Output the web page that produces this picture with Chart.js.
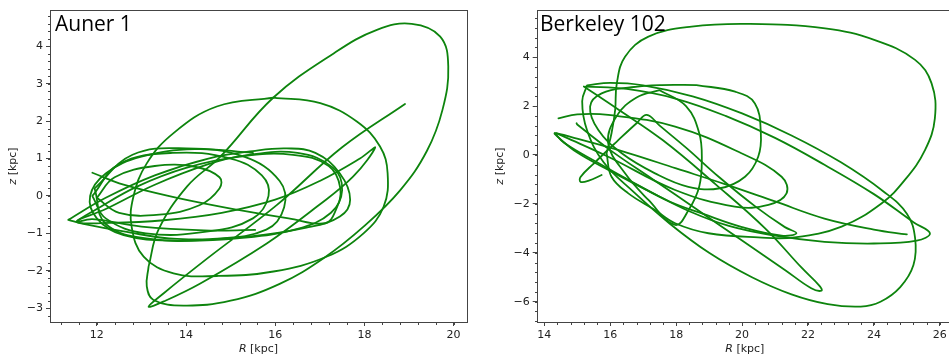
<!DOCTYPE html>
<html>
<head>
<meta charset="utf-8">
<script src="https://cdn.jsdelivr.net/npm/chart.js@4"></script>
<style>
html, body { margin: 0; padding: 0; background: #fff; overflow: hidden; }
#wrap { position: relative; width: 949px; height: 360px; overflow: hidden; }
.panel { position: absolute; top: 0; }
</style>
</head>
<body>
<div id="wrap">
  <div class="panel" style="left:0"><canvas id="auner" width="475" height="360"></canvas></div>
  <div class="panel" style="left:475px"><canvas id="berkeley" width="478" height="360"></canvas></div>
</div>
<script>
// orbit traces in the (R, z) plane, kpc
const aunerOuter = [[13.16,-1.89],[13.38,-0.91],[14.02,0.25],[14.77,1.05],[15.96,2.63],[17.31,3.81],[18.28,4.44],[19.06,4.6],[19.7,4.26],[19.88,3.46],[19.75,2.3],[19.4,1.2],[18.8,0.15],[18.0,-0.8],[17.1,-1.65],[16.1,-2.35],[15.0,-2.8],[13.94,-2.93],[13.27,-2.78],[13.12,-2.42],[13.16,-1.89]];
const aunerTall = [[15.96,2.63],[17.01,2.48],[17.83,1.99],[18.35,1.32],[18.52,0.61],[18.43,-0.29],[17.98,-1.0],[17.16,-1.62],[15.96,-2.02],[14.69,-2.14],[13.72,-2.07],[13.05,-1.62],[12.78,-0.82],[12.82,-0.02],[13.12,0.87],[13.72,1.68],[14.69,2.39],[15.96,2.63]];
const aunerDiagonal = [[18.91,2.46],[17.5,1.3],[16.04,-0.24],[14.5,-1.65],[13.5,-2.6],[13.16,-2.96],[13.5,-2.82],[14.32,-2.34],[15.81,-1.27],[16.93,-0.29],[17.75,0.52],[18.24,1.29],[17.9,1.0],[17.0,0.4],[16.0,-0.1],[14.8,-0.45],[13.5,-0.65],[12.3,-0.72],[11.55,-0.69],[12.2,-0.35],[13.3,0.3],[14.5,0.85],[15.3,1.08],[16.5,1.15],[17.3,0.75],[17.5,0.15],[17.25,-0.45],[16.5,-0.88],[15.2,-1.13],[13.8,-1.2],[12.6,-1.05],[12.0,-0.6],[11.85,0.0],[12.2,0.6],[13.0,1.05],[14.2,1.25],[15.5,1.15]];
const aunerInner = [[12.0,-0.05],[12.4,0.5],[13.3,0.8],[14.2,0.78],[14.75,0.5],[14.75,0.2],[14.3,-0.25],[13.4,-0.5],[12.5,-0.45],[12.0,-0.05]];
const aunerMid = [[11.9,0.0],[12.5,0.85],[13.7,1.15],[15.0,1.0],[15.7,0.55],[15.85,0.0],[15.5,-0.6],[14.5,-0.95],[13.1,-1.0],[12.2,-0.6],[11.9,0.0]];
const aunerWide = [[11.95,0.2],[12.8,1.1],[14.0,1.27],[15.3,1.05],[16.1,0.4],[16.2,-0.3],[15.8,-0.9],[14.6,-1.15],[13.2,-1.15],[12.2,-0.75],[11.95,0.2]];
const aunerLong = [[11.36,-0.64],[12.2,-0.05],[13.3,0.55],[14.5,1.0],[15.5,1.2],[16.26,1.27],[16.9,1.15],[17.45,0.6],[17.68,-0.1],[17.45,-0.55],[16.7,-0.85],[15.3,-1.1],[13.8,-1.15],[12.6,-0.95],[11.7,-0.75],[11.36,-0.64]];
const aunerTail = [[11.9,0.62],[12.6,0.3],[13.8,-0.05],[15.2,-0.38],[16.3,-0.6],[17.12,-0.73],[17.35,-0.4],[17.46,0.2],[17.2,0.8],[16.4,1.1],[15.2,1.05],[14.0,0.75],[12.9,0.25],[12.0,-0.35],[11.55,-0.69],[11.9,-0.62],[13.0,-0.82],[14.4,-0.92],[15.55,-0.91]];

const berkTop = [[15.89,0.07],[16.04,-0.89],[16.55,-1.57],[17.36,-2.25],[17.97,-2.79],[18.98,-3.2],[20.49,-3.37],[21.6,-3.37],[23.02,-2.93],[24.23,-1.98],[24.94,-1.02],[25.55,0.2],[25.85,1.5],[25.75,2.93],[25.25,3.89],[24.03,4.7],[22.52,5.18],[20.19,5.36],[18.47,5.25],[17.16,4.84],[16.45,4.02],[16.2,2.93],[16.15,1.84],[16.04,0.89],[15.89,0.07]];
const berkLower = [[15.3,2.85],[16.0,2.95],[17.0,2.85],[18.5,2.4],[20.0,1.7],[21.5,0.8],[23.0,-0.3],[24.3,-1.5],[25.0,-2.4],[25.25,-3.4],[25.2,-4.5],[24.8,-5.4],[24.2,-6.0],[23.6,-6.2],[22.6,-6.1],[21.5,-5.7],[20.3,-5.0],[19.0,-4.0],[17.8,-2.8],[16.7,-1.5],[15.8,-0.3],[15.3,1.0],[15.15,2.2],[15.3,2.85]];
const berkTip = [[15.25,2.8],[16.5,2.7],[18.0,2.3],[19.5,1.6],[21.0,0.7],[22.5,-0.4],[24.0,-1.6],[25.2,-2.75],[25.7,-3.2],[25.3,-3.5],[24.0,-3.62],[22.5,-3.55],[21.0,-3.3],[19.6,-2.9],[18.4,-2.3],[17.2,-1.5],[16.0,-0.65],[15.0,0.1],[14.4,0.75],[14.32,0.89],[14.9,0.7],[16.5,0.1],[18.0,-0.55],[19.5,-1.2],[21.0,-1.9],[22.5,-2.6],[24.0,-3.05],[25.0,-3.25]];
const berkMid = [[14.43,1.5],[15.0,1.66],[15.94,1.64],[17.97,1.16],[19.98,0.07],[21.2,-0.89],[21.35,-1.57],[20.8,-2.04],[19.78,-2.11],[17.97,-1.43],[15.94,-0.07],[14.6,0.75],[14.37,0.89]];
const berkHook = [[15.74,-0.82],[15.35,-1.05],[15.1,-1.1],[15.1,-0.9],[15.5,-0.35],[16.2,0.55],[16.8,1.3],[17.11,1.64],[17.5,1.2],[18.3,0.3],[19.3,-0.9],[20.4,-2.1],[21.3,-2.95],[21.65,-3.2],[21.2,-3.3],[20.0,-2.95],[18.8,-2.4],[17.8,-1.9],[16.8,-1.2],[15.6,-0.3],[14.6,0.5],[14.32,0.89]];
const berkDeep = [[15.2,2.8],[16.2,1.9],[17.6,0.6],[19.2,-1.2],[20.7,-3.0],[21.8,-4.6],[22.35,-5.35],[22.41,-5.55],[22.1,-5.45],[21.3,-4.7],[20.0,-3.5],[18.6,-2.2],[17.3,-1.0],[16.0,0.2],[15.0,1.25],[14.98,1.3]];
const berkRound = [[18.62,2.86],[19.79,2.59],[20.39,2.11],[20.57,0.89],[20.49,-0.07],[20.09,-0.89],[19.33,-1.36],[18.37,-1.3],[17.36,-0.75],[16.35,0.07],[15.64,1.02],[15.39,1.98],[15.74,2.52],[16.65,2.77],[17.56,2.86],[18.62,2.86]];
const berkOval = [[17.5,2.65],[18.3,2.0],[18.7,0.9],[18.78,-0.2],[18.7,-1.3],[18.4,-2.2],[17.97,-2.86],[17.16,-1.84],[16.45,-0.75],[15.94,0.48],[16.2,1.6],[16.8,2.35],[17.5,2.65]];

const aunerXTicks = [12, 14, 16, 18, 20];
const aunerYTicks = [-3, -2, -1, 0, 1, 2, 3, 4];
const berkXTicks = [14, 16, 18, 20, 22, 24, 26];
const berkYTicks = [-6, -4, -2, 0, 2, 4];

const TICK_FONT = { family: 'DejaVu Sans', size: 11 };
const fmt = v => (v < 0 ? '\u2212' + Math.abs(v) : String(v));

// frame, minor ticks, panel name and axis titles
const decor = {
  id: 'decor',
  afterDraw(chart, _args, o) {
    const { ctx, chartArea: a, scales: { x, y } } = chart;
    ctx.save();
    ctx.strokeStyle = '#444';
    ctx.lineWidth = 1;
    const l = Math.round(a.left), t = Math.round(a.top), r = Math.round(a.right), b = Math.round(a.bottom);
    ctx.strokeRect(l + 0.5, t + 0.5, r - l, b - t);

    ctx.beginPath();
    for (let i = Math.ceil(x.min / o.xMinor - 1e-9); i * o.xMinor <= x.max; i++) {
      const p = Math.round(x.getPixelForValue(i * o.xMinor)) + 0.5;
      ctx.moveTo(p, b + 0.5); ctx.lineTo(p, b + 3);
    }
    for (let i = Math.ceil(y.min / o.yMinor - 1e-9); i * o.yMinor <= y.max; i++) {
      const p = Math.round(y.getPixelForValue(i * o.yMinor)) + 0.5;
      ctx.moveTo(l + 0.5, p); ctx.lineTo(l - 2, p);
    }
    ctx.stroke();

    ctx.fillStyle = '#000';
    ctx.font = '21px "Open Sans"';
    ctx.textBaseline = 'alphabetic';
    ctx.textAlign = 'left';
    ctx.fillText(o.label, o.labelX, 31);

    const title = (sym, cx, cy) => {
      ctx.font = 'italic 11px "DejaVu Sans"';
      const w1 = ctx.measureText(sym).width;
      ctx.font = '11px "DejaVu Sans"';
      const w2 = ctx.measureText(' [kpc]').width;
      const s = cx - (w1 + w2) / 2;
      ctx.fillStyle = '#222';
      ctx.textBaseline = 'middle';
      ctx.font = 'italic 11px "DejaVu Sans"';
      ctx.fillText(sym, s, cy);
      ctx.font = '11px "DejaVu Sans"';
      ctx.fillText(' [kpc]', s + w1, cy);
    };
    title('R', (a.left + a.right) / 2, 349);
    ctx.translate(o.yTitleX, (a.top + a.bottom) / 2);
    ctx.rotate(-Math.PI / 2);
    title('z', 0, 0);
    ctx.restore();
  }
};

function axis(min, max, ticks, fit) {
  return {
    type: 'linear', min, max,
    afterBuildTicks: s => { s.ticks = ticks.map(v => ({ value: v })); },
    afterFit: fit,
    grid: { drawOnChartArea: false, drawTicks: true, tickLength: 4, color: '#444' },
    border: { display: false },
    ticks: { padding: 3, color: '#222', font: TICK_FONT, maxRotation: 0, autoSkip: false, callback: fmt }
  };
}

function makePanel(id, series, cfg) {
  new Chart(document.getElementById(id), {
    type: 'scatter',
    data: {
      datasets: series.map(pts => ({
        data: pts.map(([r, z]) => ({ x: r, y: z })),
        showLine: true,
        borderColor: '#0d840d',
        borderWidth: 1.8,
        pointRadius: 0,
        tension: 0.4,
        borderCapStyle: 'round',
        borderJoinStyle: 'round'
      }))
    },
    options: {
      responsive: false,
      animation: false,
      layout: { padding: { top: 10, right: cfg.padRight, left: 0, bottom: 0 } },
      scales: {
        x: axis(cfg.xRange[0], cfg.xRange[1], cfg.xTicks, s => { s.height = 38; }),
        y: axis(cfg.yRange[0], cfg.yRange[1], cfg.yTicks, s => { s.width = cfg.yWidth; })
      },
      plugins: {
        legend: { display: false },
        tooltip: { enabled: false },
        decor: cfg.decor
      }
    },
    plugins: [decor]
  });
}

makePanel('auner',
  [aunerOuter, aunerTall, aunerDiagonal, aunerInner, aunerMid, aunerWide, aunerLong, aunerTail],
  { xRange: [10.95, 20.3], yRange: [-3.37, 4.97], xTicks: aunerXTicks, yTicks: aunerYTicks,
    yWidth: 50, padRight: 8,
    decor: { xMinor: 0.4, yMinor: 0.2, label: 'Auner 1', labelX: 55, yTitleX: 13 } });

makePanel('berkeley',
  [berkTop, berkLower, berkTip, berkMid, berkHook, berkDeep, berkRound, berkOval],
  { xRange: [13.77, 26.4], yRange: [-6.83, 5.93], xTicks: berkXTicks, yTicks: berkYTicks,
    yWidth: 61.7, padRight: 0,
    decor: { xMinor: 0.4, yMinor: 0.4, label: 'Berkeley 102', labelX: 65, yTitleX: 25 } });
</script>
</body>
</html>
